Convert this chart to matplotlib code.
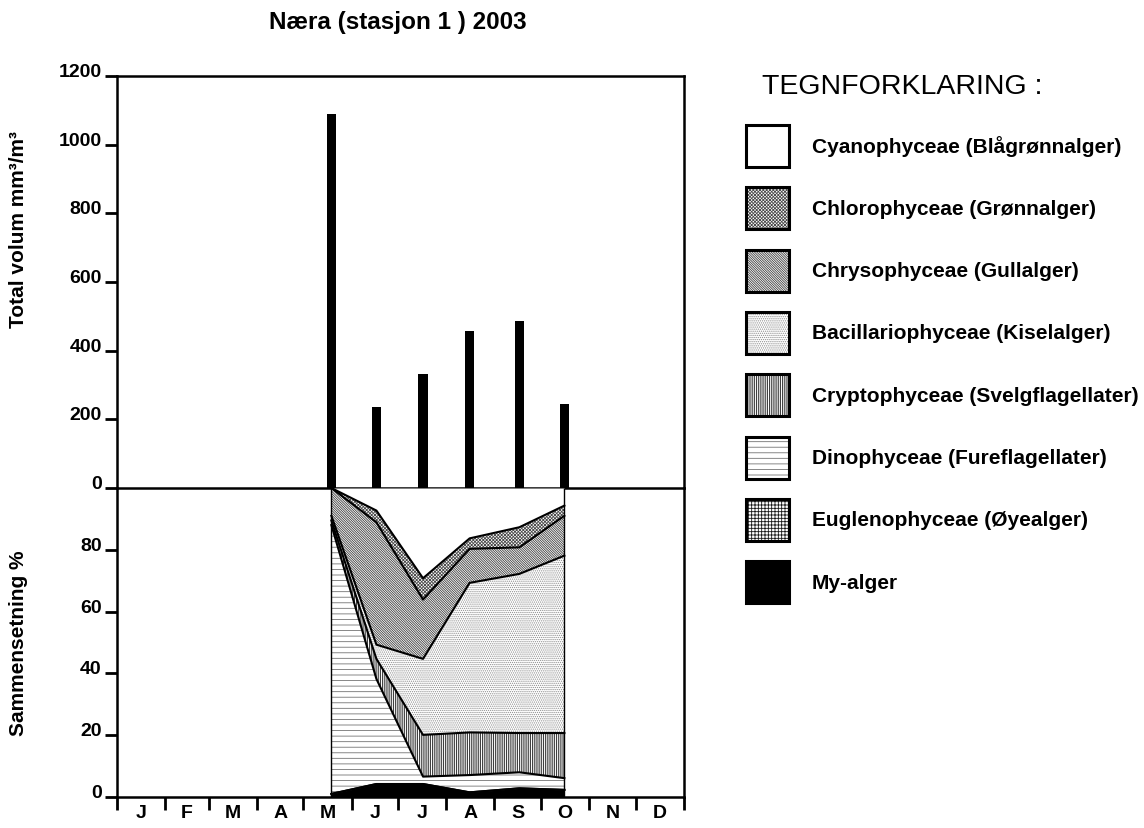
import matplotlib

matplotlib.use("Agg")
import matplotlib.pyplot as plt
import numpy as np
import pandas as pd
from matplotlib.patches import Rectangle

plt.rcParams["font.family"] = ["Liberation Sans", "DejaVu Sans"]
plt.rcParams["font.weight"] = "bold"
plt.rcParams["hatch.linewidth"] = 0.6

# --- data --------------------------------------------------------------------
sample_dates = ["2003-05-19", "2003-06-17", "2003-07-17",
                "2003-08-16", "2003-09-17", "2003-10-16"]
total_volume = [1090, 236, 331, 458, 485, 245]          # mm3/m3

# composition in %, stacked bottom -> top
my_alger = [1.0, 4.2, 4.2, 1.5, 2.8, 2.3]
eugleno = [0.0, 0.0, 0.0, 0.0, 0.0, 0.0]
dino = [87.0, 34.0, 2.4, 5.6, 5.2, 3.8]
crypto = [1.5, 6.5, 13.5, 13.8, 12.7, 14.6]
bacillario = [1.5, 4.6, 24.6, 48.4, 51.5, 57.4]
chryso = [9.0, 39.6, 19.2, 11.0, 8.6, 12.9]
chloro = [0.0, 3.8, 6.9, 3.4, 6.5, 3.3]
cyano = [0.0, 7.3, 29.2, 16.3, 12.7, 5.7]

months = ["J", "F", "M", "A", "M", "J", "J", "A", "S", "O", "N", "D"]
month_days = [31, 28, 31, 30, 31, 30, 31, 31, 30, 31, 30, 31]

legend_labels = ["Cyanophyceae (Blågrønnalger)", "Chlorophyceae (Grønnalger)",
                 "Chrysophyceae (Gullalger)", "Bacillariophyceae (Kiselalger)",
                 "Cryptophyceae (Svelgflagellater)", "Dinophyceae (Fureflagellater)",
                 "Euglenophyceae (Øyealger)", "My-alger"]

# style per group (same order as legend: top of stack first)
styles = [
    dict(face="white", hatch=None, hc="black"),
    dict(face="white", hatch="xxxxxxxxxx", hc="0.3"),
    dict(face="white", hatch="\\" * 14, hc="0.25"),
    dict(face="white", hatch="." * 8, hc="0.55"),
    dict(face="white", hatch="|" * 9, hc="0.1"),
    dict(face="white", hatch="---", hc="0.45"),
    dict(face="white", hatch="+++++", hc="0.1"),
    dict(face="black", hatch=None, hc="black"),
]

# --- derived -----------------------------------------------------------------
x = (pd.to_datetime(sample_dates).dayofyear.to_numpy() - 1).astype(float)
layers = [my_alger, eugleno, dino, crypto, bacillario, chryso, chloro, cyano]
layer_styles = styles[::-1]
cum = np.vstack([np.zeros(len(x)), np.cumsum(np.array(layers), axis=0)])
bounds = np.concatenate([[0], np.cumsum(month_days)])
mids = bounds[:-1] + np.array(month_days) / 2

fig = plt.figure(figsize=(11.44, 8.29), dpi=100)
W, H = 1144, 829


def fig_rect(x0, y0, x1, y1):
    return [x0 / W, 1 - y1 / H, (x1 - x0) / W, (y1 - y0) / H]


ax_top = fig.add_axes(fig_rect(117, 77, 684, 489))
ax_bot = fig.add_axes(fig_rect(117, 489, 684, 798))

# --- top: total volume bars --------------------------------------------------
ax_top.bar(x, total_volume, width=6, color="black", zorder=3)
ax_top.set_xlim(0, 365)
ax_top.set_ylim(0, 1200)
ax_top.set_yticks(range(0, 1201, 200))
ax_top.set_xticks([])
ax_top.set_ylabel("Total volum mm³/m³", fontsize=15, fontweight="bold",
                  va="center")
ax_top.yaxis.set_label_coords(-0.174, 0.63)

# --- bottom: composition -----------------------------------------------------
for i, st in enumerate(layer_styles):
    ax_bot.fill_between(x, cum[i], cum[i + 1], facecolor=st["face"],
                        edgecolor=st["hc"], hatch=st["hatch"], linewidth=0)
for i in range(1, len(layers)):
    ax_bot.plot(x, cum[i], color="black", lw=1.5)
ax_bot.vlines([x[0], x[-1]], 0, 100, color="black", lw=1)
ax_bot.set_xlim(0, 365)
ax_bot.set_ylim(0, 100)
ax_bot.set_yticks(range(0, 81, 20))
ax_bot.set_xticks(bounds)
ax_bot.set_xticklabels([])
ax_bot.set_xticks(mids, minor=True)
ax_bot.set_xticklabels(months, minor=True, fontsize=14, fontweight="bold")
ax_bot.tick_params(axis="x", which="major", direction="out", length=9, width=2)
ax_bot.tick_params(axis="x", which="minor", length=0, pad=5)
ax_bot.set_ylabel("Sammensetning %", fontsize=15, fontweight="bold",
                  va="center")
ax_bot.yaxis.set_label_coords(-0.174, 0.5)
ax_bot.spines["top"].set_visible(False)

for ax in (ax_top, ax_bot):
    ax.set_facecolor("none")
    for sp in ax.spines.values():
        sp.set_linewidth(1.8)
    ax.tick_params(axis="y", direction="out", length=9, width=2, pad=2,
                   labelsize=14)
    for lab in ax.get_yticklabels():
        lab.set_fontweight("bold")
        lab.set_va("baseline")

# --- title -------------------------------------------------------------------
fig.text(398 / W, 1 - 22 / H, "Næra (stasjon 1 ) 2003", ha="center",
         va="center", fontsize=17.5, fontweight="bold")

# --- legend ------------------------------------------------------------------
lax = fig.add_axes([0, 0, 1, 1])
lax.set_xlim(0, W)
lax.set_ylim(H, 0)
lax.axis("off")
lax.text(762, 87, "TEGNFORKLARING :", va="center", ha="left", fontsize=20.5,
         fontweight="normal")
for i, (lab, st) in enumerate(zip(legend_labels, styles)):
    yc = 147 + i * 62.3
    lax.add_patch(Rectangle((746, yc - 21), 43, 42, facecolor=st["face"],
                            edgecolor=st["hc"], hatch=st["hatch"], lw=0))
    lax.add_patch(Rectangle((746, yc - 21), 43, 42, fill=False,
                            edgecolor="black", lw=2.2))
    lax.text(812, yc, lab, va="center", ha="left", fontsize=15,
             fontweight="bold")

fig.savefig("out.png", dpi=100, facecolor="white")
